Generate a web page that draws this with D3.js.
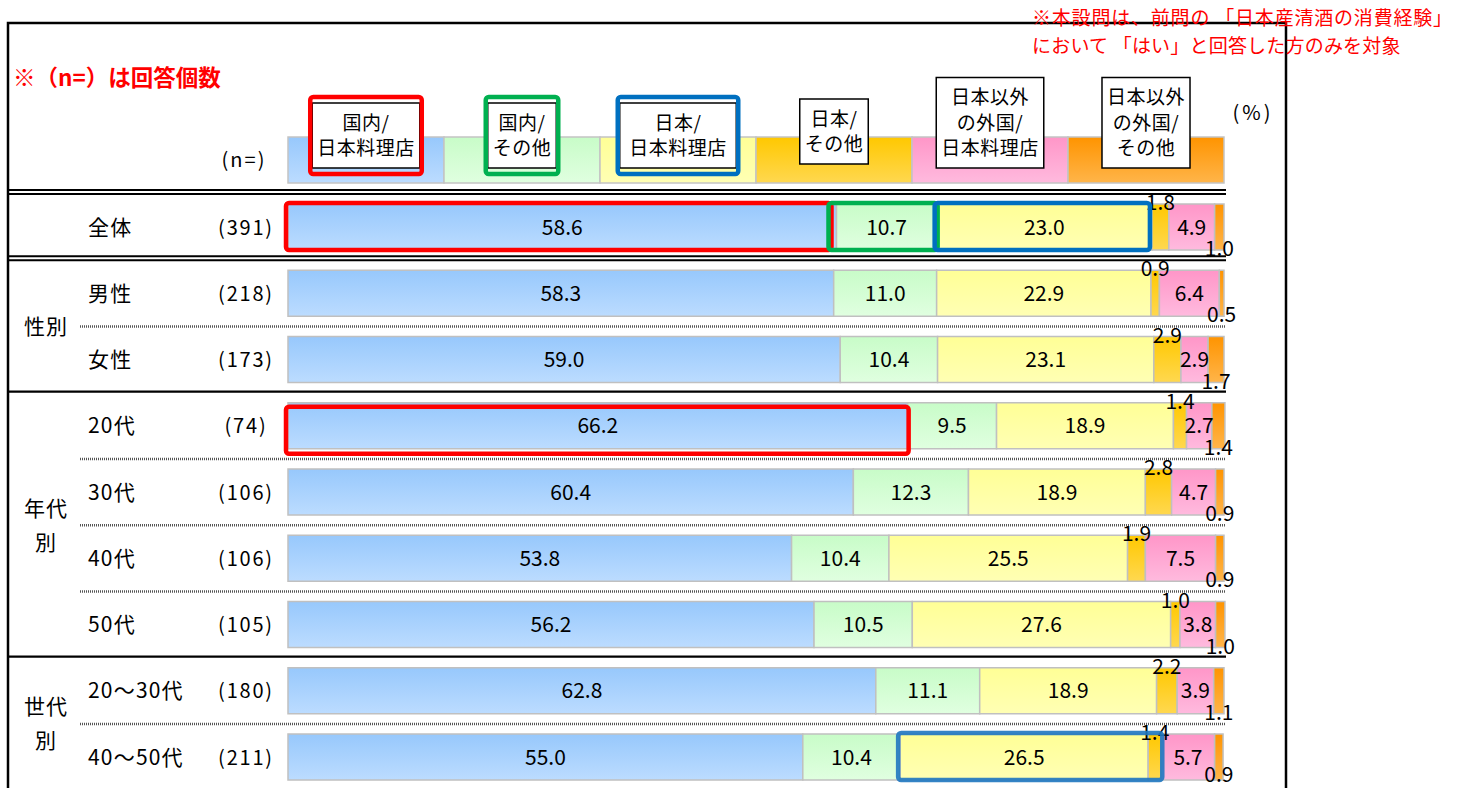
<!DOCTYPE html>
<html>
<head>
<meta charset="utf-8">
<script src="https://cdn.jsdelivr.net/npm/d3@7"></script>
<style>
  body { margin: 0; background: #fff; }
  svg { display: block; }
  text { font-family: "Noto Sans CJK JP", "Noto Sans", sans-serif; fill: #000; }
</style>
</head>
<body>
<svg id="chart" width="1462" height="788"></svg>
<script>
// ---- data ---------------------------------------------------------------
const categories = ["全体", "男性", "女性", "20代", "30代", "40代", "50代", "20～30代", "40～50代"];
const counts = [391, 218, 173, 74, 106, 106, 105, 180, 211];

const seriesNames = [
  "国内/日本料理店", "国内/その他", "日本/日本料理店",
  "日本/その他", "日本以外の外国/日本料理店", "日本以外の外国/その他"
];
const legendLines = [
  ["国内/", "日本料理店"], ["国内/", "その他"], ["日本/", "日本料理店"],
  ["日本/", "その他"], ["日本以外", "の外国/", "日本料理店"], ["日本以外", "の外国/", "その他"]
];

const domesticRestaurant = [58.6, 58.3, 59.0, 66.2, 60.4, 53.8, 56.2, 62.8, 55.0];
const domesticOther      = [10.7, 11.0, 10.4,  9.5, 12.3, 10.4, 10.5, 11.1, 10.4];
const japanRestaurant    = [23.0, 22.9, 23.1, 18.9, 18.9, 25.5, 27.6, 18.9, 26.5];
const japanOther         = [ 1.8,  0.9,  2.9,  1.4,  2.8,  1.9,  1.0,  2.2,  1.4];
const abroadRestaurant   = [ 4.9,  6.4,  2.9,  2.7,  4.7,  7.5,  3.8,  3.9,  5.7];
const abroadOther        = [ 1.0,  0.5,  1.7,  1.4,  0.9,  0.9,  1.0,  1.1,  0.9];

const groups = [
  { name: ["性別"], rows: ["男性", "女性"] },
  { name: ["年代", "別"], rows: ["20代", "30代", "40代", "50代"] },
  { name: ["世代", "別"], rows: ["20～30代", "40～50代"] }
];

const notes = {
  sample: "※（n=）は回答個数",
  scope: ["※本設問は、前問の 「日本産清酒の消費経験」", "において 「はい」と回答した方のみを対象"]
};

// ---- styling ------------------------------------------------------------
const gradientStops = [
  ["#97c8fc", "#bcdcff"],
  ["#c8fcc8", "#e0ffe0"],
  ["#ffff96", "#ffffb4"],
  ["#ffc800", "#ffd850"],
  ["#ff96c8", "#ffbade"],
  ["#ff9400", "#ffb54a"]
];
const highlights = [
  { row: "全体", from: 0, to: 0, color: "#ff0000", dx1: -6 },
  { row: "全体", from: 1, to: 1, color: "#00b050", dx0: -6 },
  { row: "全体", from: 2, to: 2, color: "#0070c0", dx1: -3 },
  { row: "20代", from: 0, to: 0, color: "#ff0000", dy: 5 },
  { row: "40～50代", from: 2, to: 3, color: "#1f77c0", opacity: 0.9 }
];
const legendHighlight = ["#ff0000", "#00b050", "#0070c0"];

// ---- table & stack ------------------------------------------------------
const seriesValues = [domesticRestaurant, domesticOther, japanRestaurant, japanOther, abroadRestaurant, abroadOther];
const table = categories.map((c, i) => {
  const row = { category: c, n: counts[i] };
  seriesNames.forEach((s, k) => row[s] = seriesValues[k][i]);
  return row;
});
const stacked = d3.stack().keys(seriesNames)(table);

const W = 1462, H = 788;
const svg = d3.select("#chart");
const x = d3.scaleLinear().domain([0, 100]).range([288, 1224]);
const y = d3.scalePoint().domain(categories).range([227, 757]);
const barH = 46;
const legendX = d3.scaleBand().domain(seriesNames).range([288, 1224]);

// gradients
const defs = svg.append("defs");
seriesNames.forEach((s, k) => {
  const g = defs.append("linearGradient").attr("id", "grad" + k)
    .attr("x1", 0).attr("y1", 0).attr("x2", 0).attr("y2", 1);
  g.append("stop").attr("offset", "0%").attr("stop-color", gradientStops[k][0]);
  g.append("stop").attr("offset", "100%").attr("stop-color", gradientStops[k][1]);
});

// ---- frame --------------------------------------------------------------
svg.append("path")
  .attr("d", "M8,790 V23 H1286 V790")
  .attr("fill", "none").attr("stroke", "#000").attr("stroke-width", 2.5);

// ---- notes --------------------------------------------------------------
svg.append("text").attr("x", 13).attr("y", 86)
  .attr("font-size", 22.5).attr("font-weight", "bold")
  .style("fill", "#ff0000").text(notes.sample);

const scope = svg.append("text").attr("font-size", 19).attr("xml:space", "preserve")
  .style("fill", "#ff0000");
scope.selectAll("tspan").data(notes.scope).join("tspan")
  .attr("x", 1032).attr("y", (d, i) => 25 + i * 28)
  .attr("letter-spacing", (d, i) => i === 0 ? 0.8 : 0.2)
  .text(d => d);

svg.append("text").attr("x", 244).attr("y", 167).attr("text-anchor", "middle")
  .attr("font-size", 20).attr("letter-spacing", 2).text("(n=)");
svg.append("text").attr("x", 1253).attr("y", 120).attr("text-anchor", "middle")
  .attr("font-size", 20).attr("letter-spacing", 3).text("(%)");

// ---- legend bar -----------------------------------------------------------
const legend = svg.append("g");
legend.selectAll("rect.seg").data(seriesNames).join("rect")
  .attr("class", "seg")
  .attr("x", d => legendX(d)).attr("y", 137)
  .attr("width", legendX.bandwidth()).attr("height", 46)
  .attr("fill", (d, k) => `url(#grad${k})`)
  .attr("stroke", "#c4c4c4").attr("stroke-width", 1.5);

const lineH = 25.5;
const legendBoxes = legend.selectAll("g.lab").data(seriesNames).join("g").attr("class", "lab");
legendBoxes.each(function (d, k) {
  const g = d3.select(this);
  const lines = legendLines[k];
  const cx = legendX(d) + legendX.bandwidth() / 2;
  const bottom = k === 3 ? 164 : 168;
  const h = lines.length * lineH + 14;
  const top = bottom - h;
  const rect = g.append("rect").attr("fill", "#fff").attr("stroke", "#000").attr("stroke-width", 1.5);
  const t = g.selectAll("text").data(lines).join("text")
    .attr("x", cx).attr("text-anchor", "middle").attr("font-size", 19).attr("letter-spacing", 0.5)
    .attr("y", (l, i) => top + 7 + lineH * i + lineH / 2 + 7)
    .text(l => l);
  let w = 0;
  t.each(function () { w = Math.max(w, this.getComputedTextLength()); });
  w += k === 2 ? 19 : 10;
  rect.attr("x", cx - w / 2).attr("y", top).attr("width", w).attr("height", h);
  if (legendHighlight[k]) {
    g.append("rect")
      .attr("x", cx - w / 2 - 2).attr("y", top - 6)
      .attr("width", w + 4).attr("height", h + 12)
      .attr("rx", 3).attr("fill", "none")
      .attr("stroke", legendHighlight[k]).attr("stroke-width", 4.5);
  }
});

// ---- separators -------------------------------------------------------------
const groupOf = c => { const g = groups.find(g => g.rows.includes(c)); return g ? g.name.join("") : c; };
const sep = svg.append("g");
function hline(yy, x0, style) {
  if (style === "double") {
    [-2, 2].forEach(o => sep.append("line").attr("x1", x0).attr("x2", 1226)
      .attr("y1", yy + o).attr("y2", yy + o).attr("stroke", "#000").attr("stroke-width", 2));
  } else if (style === "solid") {
    sep.append("line").attr("x1", x0).attr("x2", 1226).attr("y1", yy).attr("y2", yy)
      .attr("stroke", "#000").attr("stroke-width", 2.2);
  } else {
    sep.append("line").attr("x1", x0).attr("x2", 1226).attr("y1", yy).attr("y2", yy)
      .attr("stroke", "#555").attr("stroke-width", 2.5).attr("stroke-dasharray", "1 1");
  }
}
hline(y(categories[0]) - 35, 8, "double");
for (let i = 0; i < categories.length - 1; i++) {
  const a = categories[i], b = categories[i + 1];
  const mid = (y(a) + y(b)) / 2;
  if (i === 0) hline(mid - 2, 8, "double");
  else if (groupOf(a) === groupOf(b)) hline(mid, 80, "dotted");
  else hline(mid - 1, 8, "solid");
}

// ---- row labels -------------------------------------------------------------
const rowsG = svg.append("g");
rowsG.selectAll("text.cat").data(table).join("text")
  .attr("class", "cat").attr("x", 88).attr("y", d => y(d.category) + 7.5)
  .attr("font-size", 21).attr("letter-spacing", 1.2).text(d => d.category);
rowsG.selectAll("text.n").data(table).join("text")
  .attr("class", "n").attr("x", 246).attr("y", d => y(d.category) + 7.5)
  .attr("text-anchor", "middle").attr("font-size", 20).attr("letter-spacing", 1.8)
  .text(d => `(${d.n})`);

groups.forEach(g => {
  const ys = g.rows.map(r => y(r));
  const cy = (d3.min(ys) + d3.max(ys)) / 2;
  const n = g.name.length;
  g.name.forEach((line, i) => {
    rowsG.append("text").attr("x", 46).attr("text-anchor", "middle")
      .attr("y", cy + (i - (n - 1) / 2) * 34 + 7.5)
      .attr("font-size", 21).attr("letter-spacing", 1).text(line);
  });
});

// ---- bars -------------------------------------------------------------------
const bars = svg.append("g");
stacked.forEach((layer, k) => {
  bars.append("g").selectAll("rect").data(layer).join("rect")
    .attr("x", d => x(d[0])).attr("width", d => x(d[1]) - x(d[0]))
    .attr("y", d => y(d.data.category) - barH / 2).attr("height", barH)
    .attr("fill", `url(#grad${k})`)
    .attr("stroke", "#c0c0c0").attr("stroke-width", 1.5);
});

// ---- value labels -------------------------------------------------------------
const labels = svg.append("g");
stacked.forEach((layer, k) => {
  labels.append("g").selectAll("text").data(layer).join("text")
    .attr("x", d => (x(d[0]) + x(d[1])) / 2)
    .attr("y", d => {
      const cy = y(d.data.category);
      if (k === 3) return cy - barH / 2 + 6;
      if (k === 5) return Math.min(cy + barH / 2 + 6, H - 6);
      return cy + 7.5;
    })
    .attr("text-anchor", "middle").attr("font-size", 21)
    .text(d => (d[1] - d[0]).toFixed(1));
});

// ---- highlight frames -----------------------------------------------------------
const hl = svg.append("g");
highlights.forEach(h => {
  const layerFrom = stacked[h.from].find(d => d.data.category === h.row);
  const layerTo = stacked[h.to].find(d => d.data.category === h.row);
  const x0 = x(layerFrom[0]) - 2 + (h.dx0 || 0), x1 = x(layerTo[1]) + 1 + (h.dx1 || 0);
  const cy = y(h.row) + (h.dy || 0);
  hl.append("rect")
    .attr("x", x0).attr("y", cy - barH / 2 - 1)
    .attr("width", x1 - x0).attr("height", barH + 1)
    .attr("rx", 3).attr("fill", "none")
    .attr("stroke", h.color).attr("stroke-width", 4.5)
    .attr("opacity", h.opacity || 1);
});
</script>
</body>
</html>
